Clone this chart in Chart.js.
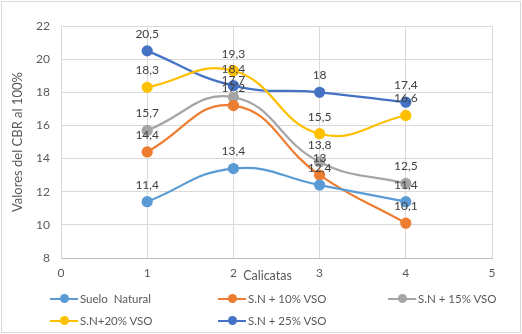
<!DOCTYPE html>
<html>
<head>
<meta charset="utf-8">
<script src="https://cdn.jsdelivr.net/npm/chart.js@4/dist/chart.umd.min.js"></script>
<style>
  body { margin: 0; background: #fff; }
  #wrap { position: relative; width: 522px; height: 334px; font-family: Lato, 'Open Sans', sans-serif; }
  #frame { position: absolute; left: 1px; top: 1px; width: 518px; height: 330px; border: 1px solid #d9d9d9; pointer-events: none; }
  .leg { position: absolute; display: flex; align-items: center; font-size: 11.5px; color: #595959; white-space: pre; }
  .leg .mk { position: relative; width: 28px; height: 9px; margin-right: 2px; }
  .leg .ln { position: absolute; left: 0; right: 0; top: 3.5px; height: 2px; }
  .leg .dt { position: absolute; left: 9.5px; top: 0; width: 9px; height: 9px; border-radius: 50%; }
</style>
</head>
<body>
<div id="wrap">
  <canvas id="chart" width="522" height="334"></canvas>
  <div id="legend"></div>
  <div id="frame"></div>
</div>
<script>
const calicatas = [1, 2, 3, 4];
const sueloNatural = [11.4, 13.4, 12.4, 11.4];
const sn10 = [14.4, 17.2, 13, 10.1];
const sn15 = [15.7, 17.7, 13.8, 12.5];
const sn20 = [18.3, 19.3, 15.5, 16.6];
const sn25 = [20.5, 18.4, 18, 17.4];

const seriesNames = ['Suelo  Natural', 'S.N + 10% VSO', 'S.N + 15% VSO', 'S.N+20% VSO', 'S.N + 25% VSO'];
const seriesData = [sueloNatural, sn10, sn15, sn20, sn25];
const seriesColors = ['#5B9BD5', '#ED7D31', '#A5A5A5', '#FFC000', '#4472C4'];

const FONT = 'Lato, "Open Sans", sans-serif';

// value labels above each point, decimal comma like the original
const valueLabels = {
  id: 'valueLabels',
  afterDatasetsDraw(chart) {
    const ctx = chart.ctx;
    ctx.save();
    ctx.font = '12px ' + FONT;
    ctx.fillStyle = '#404040';
    ctx.textAlign = 'center';
    ctx.textBaseline = 'middle';
    chart.data.datasets.forEach((ds, i) => {
      chart.getDatasetMeta(i).data.forEach((pt, j) => {
        ctx.fillText(String(ds.data[j].y).replace('.', ','), pt.x, pt.y - 17);
      });
    });
    ctx.restore();
  }
};

// x axis title sits on the tick row, like Excel put it
const xTitle = {
  id: 'xTitle',
  afterDraw(chart) {
    const ctx = chart.ctx;
    const a = chart.chartArea;
    ctx.save();
    ctx.font = '12.5px ' + FONT;
    ctx.fillStyle = '#595959';
    ctx.textAlign = 'center';
    ctx.textBaseline = 'middle';
    ctx.fillText('Calicatas', (a.left + a.right) / 2 - 9, a.bottom + 18);
    ctx.restore();
  }
};

const ctx = document.getElementById('chart').getContext('2d');
new Chart(ctx, {
  type: 'scatter',
  data: {
    datasets: seriesNames.map((name, i) => ({
      label: name,
      data: calicatas.map((c, j) => ({ x: c, y: seriesData[i][j] })),
      showLine: true,
      tension: 0.45,
      borderColor: seriesColors[i],
      backgroundColor: seriesColors[i],
      borderWidth: 2.25,
      pointRadius: 4.5,
      pointHoverRadius: 4.5,
    })),
  },
  options: {
    responsive: false,
    animation: false,
    layout: { padding: { left: 0, top: 26, right: 30, bottom: 46 } },
    scales: {
      x: {
        type: 'linear',
        min: 0,
        max: 5,
        ticks: { stepSize: 1, color: '#595959', font: { family: FONT, size: 12 }, padding: 8 },
        grid: { color: '#d9d9d9', drawTicks: false },
        border: { color: '#bfbfbf' },
        afterFit(scale) { scale.height = 30; },
      },
      y: {
        min: 8,
        max: 22,
        ticks: { stepSize: 2, color: '#595959', font: { family: FONT, size: 12 }, padding: 11 },
        grid: { color: '#d9d9d9', drawTicks: false },
        border: { color: '#d9d9d9' },
        title: {
          display: true,
          text: 'Valores del CBR al 100%',
          color: '#595959',
          font: { family: FONT, size: 13 },
          padding: { top: 10, bottom: 0 },
        },
        afterFit(scale) { scale.width = 61; },
      },
    },
    plugins: {
      legend: { display: false },
      tooltip: { enabled: false },
    },
  },
  plugins: [valueLabels, xTitle],
});

// legend built as html, 3 columns like the original
const legendPos = [[50, 300], [218, 300], [388, 300], [50, 322], [218, 322]];
const legend = document.getElementById('legend');
seriesNames.forEach((name, i) => {
  const d = document.createElement('div');
  d.className = 'leg';
  d.style.left = legendPos[i][0] + 'px';
  d.style.top = (legendPos[i][1] - 8) + 'px';
  d.innerHTML = '<span class="mk"><span class="ln" style="background:' + seriesColors[i] +
    '"></span><span class="dt" style="background:' + seriesColors[i] + '"></span></span>' + name;
  legend.appendChild(d);
});
</script>
</body>
</html>
